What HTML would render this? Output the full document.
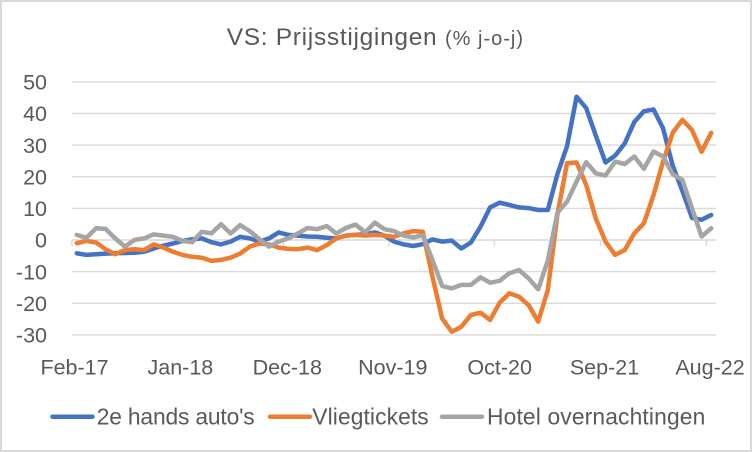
<!DOCTYPE html>
<html>
<head>
<meta charset="utf-8">
<style>
  html,body{margin:0;padding:0;background:#fff;}
  svg{display:block;}
  text{font-family:"Liberation Sans", Arial, sans-serif;fill:#595959;}
</style>
</head>
<body>
<svg width="752" height="452" viewBox="0 0 752 452" xmlns="http://www.w3.org/2000/svg">
  <rect x="0" y="0" width="752" height="452" fill="#ffffff"/>
  <rect x="1" y="1" width="750" height="450" fill="none" stroke="#d9d9d9" stroke-width="2"/>

  <!-- Title -->
  <text x="226.7" y="45" font-size="24.5" textLength="210">VS: Prijsstijgingen</text>
  <text x="445" y="45" font-size="20" textLength="78">(% j-o-j)</text>

  <!-- Gridlines -->
  <g stroke="#d9d9d9" stroke-width="1.4">
    <line x1="72" y1="81.9" x2="716" y2="81.9"/>
    <line x1="72" y1="113.5" x2="716" y2="113.5"/>
    <line x1="72" y1="145.1" x2="716" y2="145.1"/>
    <line x1="72" y1="176.7" x2="716" y2="176.7"/>
    <line x1="72" y1="208.4" x2="716" y2="208.4"/>
    <line x1="72" y1="240" x2="716" y2="240"/>
    <line x1="72" y1="271.6" x2="716" y2="271.6"/>
    <line x1="72" y1="303.3" x2="716" y2="303.3"/>
    <line x1="72" y1="334.9" x2="716" y2="334.9"/>
  </g>
  <!-- tick marks on zero axis -->
  <g stroke="#d9d9d9" stroke-width="1.4">
    <line x1="72" y1="240" x2="72" y2="246"/>
    <line x1="177.7" y1="240" x2="177.7" y2="246"/>
    <line x1="283.5" y1="240" x2="283.5" y2="246"/>
    <line x1="389.2" y1="240" x2="389.2" y2="246"/>
    <line x1="494.4" y1="240" x2="494.4" y2="246"/>
    <line x1="600.5" y1="240" x2="600.5" y2="246"/>
    <line x1="706.2" y1="240" x2="706.2" y2="246"/>
  </g>

  <!-- Y axis labels -->
  <g font-size="21.5" text-anchor="end">
    <text x="47" y="89.6">50</text>
    <text x="47" y="121.2">40</text>
    <text x="47" y="152.8">30</text>
    <text x="47" y="184.4">20</text>
    <text x="47" y="216.1">10</text>
    <text x="47" y="247.7">0</text>
    <text x="47" y="279.3">-10</text>
    <text x="47" y="311">-20</text>
    <text x="47" y="342.6">-30</text>
  </g>

  <!-- X axis labels -->
  <g font-size="21.5" text-anchor="middle">
    <text x="74.5" y="374.3">Feb-17</text>
    <text x="180.4" y="374.3">Jan-18</text>
    <text x="287.3" y="374.3">Dec-18</text>
    <text x="392.8" y="374.3">Nov-19</text>
    <text x="499.7" y="374.3">Oct-20</text>
    <text x="604.5" y="374.3">Sep-21</text>
    <text x="710" y="374.3">Aug-22</text>
  </g>

  <!-- Series -->
  <g fill="none" stroke-width="4.5" stroke-linejoin="round" stroke-linecap="round">
    <!-- 2e hands auto's -->
    <polyline stroke="#4472C4" points="
76.8,253.3 86.4,254.9 96.0,254.2 105.6,253.6 115.2,253.3 124.9,253.0 134.5,252.7 144.1,251.7 153.7,248.5 163.3,245.7
172.9,243.5 182.5,240.9 192.1,239.4 201.8,238.4 211.4,242.2 221.0,244.4 230.6,241.6 240.2,236.8 249.8,238.4 259.4,241.6
269.0,238.4 278.7,232.4 288.3,234.9 297.9,235.6 307.5,236.5 317.1,236.8 326.7,237.8 336.3,238.4 345.9,235.6 355.5,234.9
365.2,234.3 374.8,232.4 384.4,235.6 394.0,241.6 403.6,244.4 413.2,246.0 422.8,244.1 432.4,239.4 442.1,241.6 451.7,240.6
461.3,248.5 470.9,242.5 480.5,226.7 490.1,207.4 499.7,202.7 509.3,204.9 518.9,207.4 528.6,208.1 538.2,210.0 547.8,210.0
557.4,174.2 567.0,146.4 576.6,96.7 586.2,108.1 595.8,135.6 605.5,162.5 615.1,155.6 624.7,143.5 634.3,122.0 643.9,111.3
653.5,109.4 663.1,128.4 672.7,165.7 682.4,191.0 692.0,217.9 701.6,219.8 711.2,215.0"/>
    <!-- Vliegtickets -->
    <polyline stroke="#ED7D31" points="
76.8,243.2 86.4,240.9 96.0,242.5 105.6,249.2 115.2,254.2 124.9,250.1 134.5,249.2 144.1,250.1 153.7,244.4 163.3,247.6
172.9,251.7 182.5,254.9 192.1,256.8 201.8,257.7 211.4,260.9 221.0,259.9 230.6,257.7 240.2,253.6 249.8,246.6 259.4,243.5
269.0,244.4 278.7,247.6 288.3,248.9 297.9,249.2 307.5,247.6 317.1,250.1 326.7,245.1 336.3,238.4 345.9,235.6 355.5,234.9
365.2,235.6 374.8,234.9 384.4,235.6 394.0,236.8 403.6,233.4 413.2,231.1 422.8,231.8 432.4,276.4 442.1,318.4 451.7,331.7
461.3,326.7 470.9,315.0 480.5,312.7 490.1,320.0 499.7,302.6 509.3,293.4 518.9,296.6 528.6,305.1 538.2,321.6 547.8,290.0
557.4,214.7 567.0,163.2 576.6,162.5 586.2,185.0 595.8,218.5 605.5,241.6 615.1,254.9 624.7,250.1 634.3,233.4 643.9,223.2
653.5,195.1 663.1,161.6 672.7,132.8 682.4,119.8 692.0,130.0 701.6,151.8 711.2,132.8"/>
    <!-- Hotel overnachtingen -->
    <polyline stroke="#A5A5A5" points="
76.8,234.9 86.4,237.8 96.0,228.3 105.6,228.9 115.2,238.4 124.9,246.6 134.5,240.0 144.1,238.4 153.7,234.3 163.3,235.6
172.9,236.8 182.5,240.9 192.1,242.2 201.8,231.8 211.4,233.4 221.0,224.2 230.6,233.4 240.2,225.1 249.8,231.1 259.4,239.1
269.0,246.6 278.7,241.6 288.3,238.4 297.9,233.4 307.5,228.0 317.1,229.2 326.7,226.1 336.3,233.4 345.9,228.0 355.5,224.5
365.2,232.4 374.8,222.6 384.4,229.2 394.0,231.1 403.6,235.6 413.2,237.5 422.8,235.3 432.4,259.9 442.1,285.9 451.7,288.4
461.3,284.9 470.9,284.9 480.5,277.3 490.1,282.7 499.7,280.8 509.3,273.2 518.9,270.0 528.6,278.3 538.2,289.3 547.8,260.6
557.4,212.8 567.0,201.7 576.6,181.5 586.2,162.2 595.8,173.3 605.5,175.5 615.1,161.6 624.7,164.1 634.3,156.5 643.9,168.8
653.5,151.5 663.1,156.5 672.7,174.2 682.4,179.9 692.0,208.4 701.6,236.5 711.2,228.3"/>
  </g>

  <!-- Legend -->
  <g stroke-width="4.5" stroke-linecap="round">
    <line x1="52.5" y1="416.7" x2="92.5" y2="416.7" stroke="#4472C4"/>
    <line x1="270" y1="416.7" x2="310" y2="416.7" stroke="#ED7D31"/>
    <line x1="442" y1="416.7" x2="482" y2="416.7" stroke="#A5A5A5"/>
  </g>
  <g font-size="22.8">
    <text x="96.7" y="424.3" textLength="158">2e hands auto's</text>
    <text x="312.3" y="424.3" textLength="116.4">Vliegtickets</text>
    <text x="487" y="424.3" textLength="218.3">Hotel overnachtingen</text>
  </g>
</svg>
</body>
</html>
